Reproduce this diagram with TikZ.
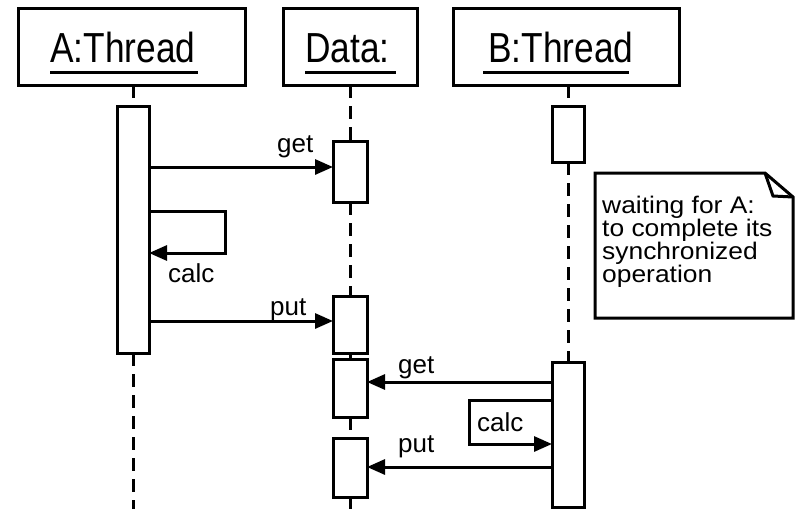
\documentclass[tikz,border=0pt]{standalone}
\usepackage{fontspec}
\setmainfont{Liberation Sans}
\newfontfamily\hdfont[FakeStretch=0.84]{Liberation Sans}
\newfontfamily\notefont[FakeStretch=1.1]{Liberation Sans}
\usetikzlibrary{arrows.meta}
\begin{document}
\begin{tikzpicture}[x=1pt,y=-1pt,
  box/.style={draw, line width=3pt, inner sep=0pt, outer sep=0pt, fill=white},
  life/.style={line width=3pt, dash pattern=on 13pt off 8pt},
  msg/.style={line width=3pt, -{Triangle[length=18pt,width=15pt]}},
  uline/.style={line width=3pt},
  lbl/.style={font=\fontsize{26}{26}\selectfont, inner sep=0pt, anchor=base west},
  notetxt/.style={font=\notefont\fontsize{24}{24}\selectfont, inner sep=0pt, anchor=base west},
  hd/.style={font=\hdfont\fontsize{42}{42}\selectfont, inner sep=0pt, anchor=base west}]
\useasboundingbox (0,0) rectangle (800,509);

% header boxes
\node[box, minimum width=227pt, minimum height=77pt] (hA) at (131.5,46.5) {};
\node[box, minimum width=134pt, minimum height=77pt] (hD) at (350,46.5) {};
\node[box, minimum width=226pt, minimum height=77pt] (hB) at (566,46.5) {};
\node[hd] (tA) at (50,62) {A:Thread};
\node[hd] (tD) at (305,62) {Data:};
\node[hd] (tB) at (488,62) {B:Thread};
\draw[uline] (50,72) -- (198,72);
\draw[uline] (305,72) -- (396,72);
\draw[uline] (483,72) -- (629,72);

% activations
\node[box, minimum width=32pt, minimum height=247pt] (actA) at (133,229.5) {};
\node[box, minimum width=34pt, minimum height=61pt] (d1) at (350,171.5) {};
\node[box, minimum width=34pt, minimum height=57pt] (d2) at (350,324.5) {};
\node[box, minimum width=34pt, minimum height=58pt] (d3) at (350,388) {};
\node[box, minimum width=34pt, minimum height=59pt] (d4) at (350,467.5) {};
\node[box, minimum width=32pt, minimum height=56pt] (bA1) at (568,134) {};
\node[box, minimum width=32pt, minimum height=145pt] (bA2) at (568,434.5) {};

% lifelines
\coordinate (endA) at (133,509);
\coordinate (endD) at (350,509);
\draw[life] (actA.north |- hA.south) -- (actA.north);
\draw[life] (actA.south) -- (endA);
\draw[life] (d1.north |- hD.south) -- (d1.north);
\draw[life] (d1.south) -- (d2.north);
\draw[life] (d2.south) -- (d3.north);
\draw[life] (d3.south) -- (d4.north);
\draw[life] (d4.south) -- (endD);
\draw[life] (bA1.north |- hB.south) -- (bA1.north);
\draw[life] (bA1.south) -- (bA2.north);

% messages thread A
\draw[msg] (actA.east |- 0,167) -- (d1.west |- 0,167);
\coordinate (loopA1) at (225,211);
\coordinate (loopA2) at (225,253);
\draw[msg] (actA.east |- loopA1) -- (loopA1) -- (loopA2) -- (actA.east |- loopA2);
\draw[msg] (actA.east |- 0,321) -- (d2.west |- 0,321);
\node[lbl] (lgetA) at (277,152) {get};
\node[lbl] (lcalcA) at (168,282) {calc};
\node[lbl] (lputA) at (270,315) {put};

% messages thread B
\draw[msg] (bA2.west |- 0,382) -- (d3.east |- 0,382);
\coordinate (loopB1) at (469,400);
\coordinate (loopB2) at (469,444);
\draw[msg] (bA2.west |- loopB1) -- (loopB1) -- (loopB2) -- (bA2.west |- loopB2);
\draw[msg] (bA2.west |- 0,467) -- (d4.east |- 0,467);
\node[lbl] (lgetB) at (398,373) {get};
\node[lbl] (lcalcB) at (477,431) {calc};
\node[lbl] (lputB) at (398,452) {put};

% note
\coordinate (n1) at (595,173);
\coordinate (n2) at (765,173);
\coordinate (n3) at (793,197);
\coordinate (n4) at (793,318);
\coordinate (n5) at (595,318);
\coordinate (nf) at (773,196);
\draw[line width=3pt, line join=miter] (n1) -- (n2) -- (n3) -- (n4) -- (n5) -- cycle;
\draw[line width=3pt] (n2) -- (nf) -- (n3);
\node[notetxt] (nl1) at (602,213) {waiting for A:};
\node[notetxt] (nl2) at (602,236) {to complete its};
\node[notetxt] (nl3) at (602,259) {synchronized};
\node[notetxt] (nl4) at (602,282) {operation};
\end{tikzpicture}
\end{document}
